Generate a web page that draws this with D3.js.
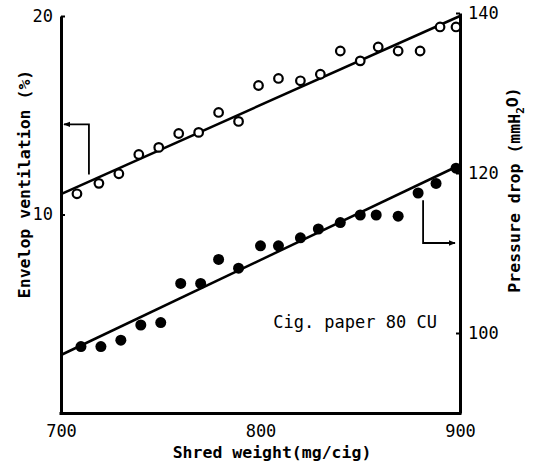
<!DOCTYPE html>
<html><head><meta charset="utf-8">
<script src="https://cdn.jsdelivr.net/npm/d3@7"></script>
<style>
body{margin:0;background:#fff;}
svg{display:block;}
text{font-family:"DejaVu Sans Mono",monospace;fill:#000;}
</style></head>
<body><div id="chart"></div>
<script>
// Data
const shredOpen = [708,719,729,739,749,759,769,779,789,799,809,820,830,840,850,859,869,880,890,898];
const ventilation = [10.75,11.15,11.53,12.33,12.64,13.27,13.32,14.28,13.84,15.69,16.08,15.95,16.32,17.7,17.1,17.95,17.7,17.7,19.25,19.25];
const shredFilled = [710,720,730,740,750,760,770,779,789,800,809,820,829,840,850,858,869,879,888,898];
const pressure = [98.3,98.3,99.1,101.0,101.3,106.2,106.2,109.2,108.1,110.9,110.9,111.9,113.0,113.8,114.75,114.75,114.6,117.5,118.7,120.6];
const ventFit = [[700,10.74],[900,20.0]];
const pressFit = [[700,97.25],[900,121.0]];
const xTicks = [700,800,900];
const leftTicks = [10,20];
const rightTicks = [100,120,140];
const annotation = "Cig. paper 80 CU";

const W=540,H=469;
const svg=d3.select("#chart").append("svg").attr("width",W).attr("height",H);
svg.append("defs").append("marker").attr("id","ah").attr("viewBox","0 0 10 10")
  .attr("refX",9).attr("refY",5).attr("markerWidth",4).attr("markerHeight",4).attr("orient","auto")
  .append("path").attr("d","M0,1L10,5L0,9Z").attr("fill","#000");

const x=d3.scaleLinear().domain([700,900]).range([61,460]);
const yL=d3.scaleLog().domain([5,20]).range([413,16]);
const yR=d3.scaleLinear().domain([90,140]).range([413,13]);

// axes
const gL=svg.append("g").attr("transform","translate(61,0)")
  .call(d3.axisLeft(yL).tickValues(leftTicks).tickFormat(d3.format("d")).tickSize(-4).tickSizeOuter(0).tickPadding(8));
const gR=svg.append("g").attr("transform","translate(460,0)")
  .call(d3.axisRight(yR).tickValues(rightTicks).tickSize(-4).tickSizeOuter(0).tickPadding(8));
const gB=svg.append("g").attr("transform","translate(0,413)")
  .call(d3.axisBottom(x).tickValues(xTicks).tickSize(0).tickSizeOuter(0).tickPadding(12));
[gL,gR,gB].forEach(g=>{
  g.select(".domain").attr("stroke","#000").attr("stroke-width",3);
  g.selectAll(".tick line").attr("stroke","#000").attr("stroke-width",2);
  g.selectAll(".tick text").style("font-size","17px").style("font-family","DejaVu Sans Mono");
});
gB.select(".domain").attr("d","M59.5,0.5H461.5");

// fit lines
svg.append("path").attr("d",d3.line().x(d=>x(d[0])).y(d=>yL(d[1]))(ventFit))
  .attr("stroke","#000").attr("stroke-width",2.5).attr("fill","none");
svg.append("path").attr("d",d3.line().x(d=>x(d[0])).y(d=>yR(d[1]))(pressFit))
  .attr("stroke","#000").attr("stroke-width",2.5).attr("fill","none");

// points
svg.append("g").selectAll("circle").data(shredOpen).join("circle")
  .attr("cx",d=>x(d)).attr("cy",(d,i)=>yL(ventilation[i])).attr("r",4.3)
  .attr("fill","#fff").attr("stroke","#000").attr("stroke-width",2.2);
svg.append("g").selectAll("circle").data(shredFilled).join("circle")
  .attr("cx",d=>x(d)).attr("cy",(d,i)=>yR(pressure[i])).attr("r",5.5).attr("fill","#000");

// arrows (data units)
const arrowL=[[714,11.5],[714,13.7],[701.5,13.7]];
svg.append("path").attr("d",d3.line().x(d=>x(d[0])).y(d=>yL(d[1]))(arrowL))
  .attr("stroke","#000").attr("stroke-width",1.8).attr("fill","none").attr("marker-end","url(#ah)");
const arrowR=[[881.5,116.6],[881.5,111.25],[897.5,111.25]];
svg.append("path").attr("d",d3.line().x(d=>x(d[0])).y(d=>yR(d[1]))(arrowR))
  .attr("stroke","#000").attr("stroke-width",1.8).attr("fill","none").attr("marker-end","url(#ah)");

// annotation
svg.append("text").attr("x",x(847.4)).attr("y",yR(101.4)).attr("dy","0.35em")
  .attr("text-anchor","middle").style("font-size","17px").text(annotation);

// axis labels
svg.append("text").attr("transform","translate(24,184) rotate(-90)").attr("text-anchor","middle")
  .attr("dy","0.35em").style("font-size","16.5px").style("font-weight","bold").text("Envelop ventilation (%)");
svg.append("text").attr("x",272).attr("y",452).attr("text-anchor","middle").attr("dy","0.35em")
  .style("font-size","16.5px").style("font-weight","bold").text("Shred weight(mg/cig)");
const rl=svg.append("text").attr("transform","translate(514,190) rotate(-90)").attr("text-anchor","middle")
  .attr("dy","0.35em").style("font-size","16.5px").style("font-weight","bold");
rl.append("tspan").text("Pressure drop (mmH");
rl.append("tspan").attr("dy","0.35em").style("font-size","11px").text("2");
rl.append("tspan").attr("dy","-0.35em").text("O)");
</script></body></html>
